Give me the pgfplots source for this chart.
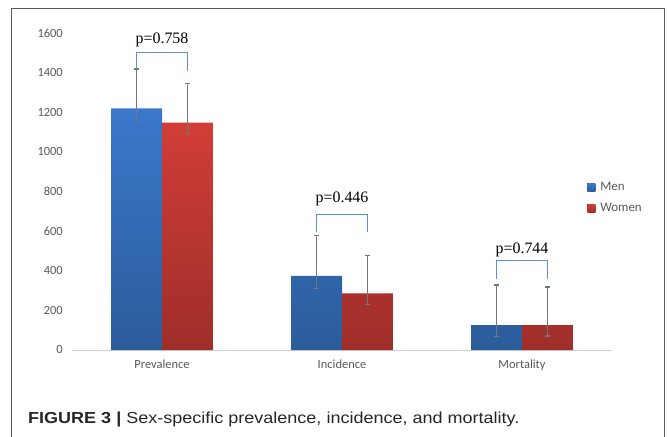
\documentclass[border=0pt]{standalone}
\usepackage{fontspec}
\setmainfont{Carlito}
\newfontfamily\serifp{Liberation Serif}
\newfontfamily\capfont[FakeStretch=1.13]{Liberation Sans}
\usepackage{pgfplots}
\pgfplotsset{compat=1.18}
\definecolor{tickgray}{HTML}{595959}
\definecolor{errgray}{HTML}{767676}
\definecolor{menTop}{HTML}{3B78CB}
\definecolor{menBot}{HTML}{2B5C9A}
\definecolor{womTop}{HTML}{D23D37}
\definecolor{womBot}{HTML}{9E2E2A}
\definecolor{brk}{HTML}{5B8FD6}
\pgfplotstableread{
x y ep em
0 1220 198 62
1 374 202 63
2 126 202 59
}\men
\pgfplotstableread{
x y ep em
0 1148 197 56
1 286 190 57
2 126 192 55
}\women
\begin{document}
\begin{tikzpicture}
\useasboundingbox (-72bp,-87bp) rectangle (596bp,350bp);
\fill[white] (-72bp,-87bp) rectangle (596bp,350bp);
\draw[line width=1bp, color=black!65] (-60bp,-100bp) -- (-60bp,341bp) -- (592bp,341bp) -- (592bp,-100bp);
\node[anchor=base west, inner sep=0pt, font=\capfont\fontsize{16}{18}\selectfont, text=black!85] at (-44bp,-73bp) {\textbf{FIGURE 3 |} Sex-specific prevalence, incidence, and mortality.};
\begin{axis}[
  at={(0,0)}, anchor=south west,
  scale only axis, width=540bp, height=317bp,
  xmin=-0.5, xmax=2.5, ymin=0, ymax=1600,
  ybar=0pt, bar width=0.2833,
  axis lines*=left,
  x axis line style={draw=black!18, line width=0.8bp, -},
  y axis line style={draw=none},
  tick style={draw=none},
  major tick length=0pt,
  ytick={0,200,...,1600},
  xtick={0,1,2},
  xticklabels={Prevalence,Incidence,Mortality},
  /pgf/number format/assume math mode=true,
  /pgf/number format/1000 sep={},
  yticklabel style={font=\fontsize{12.5}{12.5}\selectfont, text=tickgray, inner sep=0pt, xshift=-9bp},
  xticklabel style={font=\fontsize{12.5}{12.5}\selectfont, text=tickgray, inner sep=0pt, yshift=-10bp},
  every axis plot post/.append style={legend image code/.code={\fill[##1] (0bp,-4bp) rectangle (8bp,4bp);}},
  legend style={at={(rel axis cs:0.954,0.535)}, anchor=north west, draw=none, fill=none, inner sep=0pt,
    font=\fontsize{13}{13}\selectfont, text=tickgray, row sep=7bp,
    /tikz/every odd column/.append style={column sep=3bp}},
  legend cell align=left,
  clip=false,
]
\addplot[draw=none, top color=menTop, bottom color=menBot,
  error bars/.cd, y dir=both, y explicit,
  error bar style={errgray, line width=1.2bp},
  error mark options={errgray, rotate=90, mark size=2.5bp, line width=1.2bp}]
  table[x=x, y=y, y error plus=ep, y error minus=em] {\men};
\addlegendentry{Men}
\addplot[draw=none, top color=womTop, bottom color=womBot,
  error bars/.cd, y dir=both, y explicit,
  error bar style={errgray, line width=1.2bp},
  error mark options={errgray, rotate=90, mark size=2.5bp, line width=1.2bp}]
  table[x=x, y=y, y error plus=ep, y error minus=em] {\women};
\addlegendentry{Women}
\addplot[sharp plot, no markers, brk, line width=1bp, forget plot, bar shift=0pt]
  coordinates {(-0.142,1418) (-0.142,1500) (0.142,1500) (0.142,1410)};
\addplot[sharp plot, no markers, brk, line width=1bp, forget plot, bar shift=0pt]
  coordinates {(0.858,594) (0.858,685) (1.142,685) (1.142,594)};
\addplot[sharp plot, no markers, brk, line width=1bp, forget plot, bar shift=0pt]
  coordinates {(1.858,359) (1.858,450) (2.142,450) (2.142,359)};
\node[font=\serifp\fontsize{16}{16}\selectfont] at (axis cs:0,1565) {p=0.758};
\node[font=\serifp\fontsize{16}{16}\selectfont] at (axis cs:1,762) {p=0.446};
\node[font=\serifp\fontsize{16}{16}\selectfont] at (axis cs:2,505) {p=0.744};
\end{axis}
\end{tikzpicture}
\end{document}
